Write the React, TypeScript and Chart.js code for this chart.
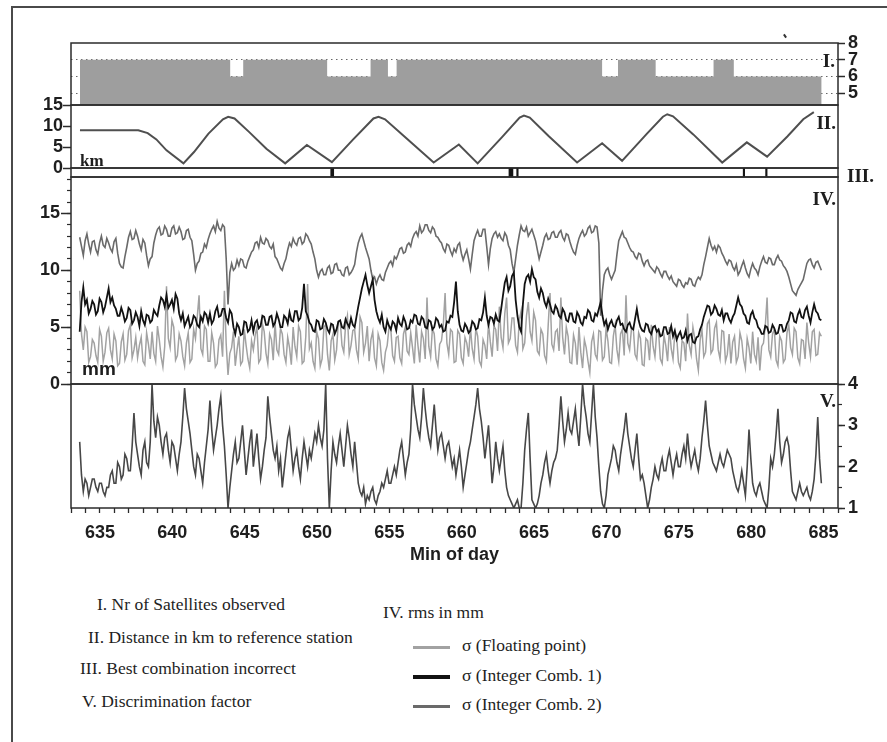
import React, { useEffect, useRef } from "react";
import { Chart, registerables } from "chart.js";
Chart.register(...registerables);

// ---------------- data ----------------
const X_MIN = 633;
const X_MAX = 686;
const X_LABEL_EVERY = 5;

// I. number of satellites (step changes)
const SAT_TIME = [633.62, 644.0, 644.9, 650.7, 653.7, 654.9, 655.5, 669.7, 670.8, 673.4, 677.4, 678.8, 684.87];
const SAT_COUNT = [7, 6, 7, 6, 7, 6, 7, 6, 7, 6, 7, 6, 6];

// II. distance to reference station (km)
const DIST_TIME = [633.62, 637.65, 638.3, 638.9, 639.6, 640.77, 641.5, 642.5, 643.5, 643.86, 644.3, 645.3, 646.5, 647.8, 649.3, 651.03, 652.5, 653.9, 654.25, 654.7, 656.0, 658.06, 659.8, 661.1, 662.8, 664.0, 664.3, 664.7, 666.0, 667.97, 669.7, 671.08, 672.8, 673.9, 674.2, 674.6, 676.0, 678.0, 679.7, 681.1, 682.5, 683.6, 684.33];
const DIST_KM = [9.0, 9.0, 8.3, 6.8, 4.2, 1.1, 3.8, 8.2, 11.6, 12.2, 11.8, 8.6, 4.6, 1.1, 5.5, 1.4, 6.8, 11.8, 12.2, 11.6, 7.6, 1.3, 5.6, 1.1, 7.4, 12.0, 12.5, 12.0, 7.6, 1.3, 5.9, 1.7, 8.2, 12.2, 12.8, 12.3, 8.0, 1.3, 6.1, 2.7, 7.5, 11.6, 13.3];

// III. best combination incorrect (minutes)
const WRONG_THICK = [651.05];
const WRONG_BLOCK = [663.4];
const WRONG_THIN = [663.85, 679.5, 681.05];

// sampling of the rms / discrimination series (one row = one minute)
const T_START = 633.6;
const T_STEP = 0.125;

// IV. sigma, floating point (mm)
const SIGMA_FLOAT = [
  8.2, 4.4, 3.0, 5.0, 4.6, 1.9, 2.4, 3.9,
  3.6, 2.5, 1.9, 4.8, 4.2, 2.0, 2.8, 4.5,
  4.9, 3.0, 2.2, 4.4, 3.8, 1.6, 1.8, 3.7,
  4.4, 2.1, 2.6, 4.7, 5.2, 2.3, 3.0, 4.1,
  2.3, 3.4, 4.1, 2.0, 1.7, 4.5, 3.5, 2.2,
  4.6, 2.7, 2.0, 5.1, 3.9, 2.4, 1.5, 3.3,
  8.6, 4.0, 3.2, 5.6, 5.0, 2.1, 2.5, 4.4,
  3.8, 2.4, 1.6, 3.6, 4.5, 1.9, 2.2, 4.8,
  4.0, 5.9, 7.8, 3.1, 2.6, 5.1, 4.8, 2.0,
  2.0, 4.5, 3.6, 1.5, 1.8, 3.9, 4.3, 2.4,
  8.2, 3.5, 0.8, 2.7, 3.2, 4.6, 1.6, 3.0,
  4.2, 1.7, 2.0, 4.8, 3.4, 2.2, 1.4, 3.8,
  3.0, 4.3, 5.0, 1.9, 2.2, 5.3, 4.6, 2.7,
  1.8, 4.4, 3.9, 2.1, 5.4, 3.0, 2.6, 4.9,
  4.4, 2.6, 1.9, 4.1, 3.2, 1.7, 5.0, 3.3,
  2.4, 5.1, 4.6, 1.8, 2.0, 4.2, 8.8, 3.1,
  3.6, 2.0, 1.4, 4.6, 4.0, 1.6, 2.2, 5.0,
  5.2, 2.6, 1.2, 3.8, 4.4, 2.1, 3.0, 5.5,
  5.6, 3.4, 2.8, 5.2, 6.0, 2.6, 3.4, 4.7,
  4.8, 3.0, 2.2, 5.9, 5.4, 2.8, 3.6, 5.1,
  2.0, 3.9, 4.6, 2.3, 1.6, 4.4, 3.8, 1.9,
  1.2, 2.8, 3.4, 5.0, 4.8, 2.5, 2.0, 4.1,
  4.2, 2.3, 1.8, 4.4, 5.0, 2.9, 2.6, 4.5,
  3.2, 1.8, 5.2, 3.4, 1.9, 4.6, 4.0, 2.2,
  7.6, 3.3, 2.4, 4.9, 4.4, 2.2, 1.6, 3.5,
  3.8, 5.2, 8.0, 3.6, 2.6, 4.8, 4.6, 1.9,
  2.0, 4.7, 4.4, 2.3, 1.8, 4.1, 3.6, 2.4,
  5.0, 3.1, 2.2, 4.9, 4.2, 2.0, 1.6, 3.9,
  3.4, 2.2, 5.4, 3.7, 2.4, 5.1, 4.8, 2.9,
  6.8, 4.1, 3.2, 6.2, 7.6, 3.6, 4.0, 5.8,
  5.8, 3.4, 2.8, 5.6, 6.4, 3.1, 3.6, 6.0,
  7.2, 4.6, 3.8, 6.3, 5.6, 2.9, 2.6, 4.8,
  4.4, 2.5, 2.0, 5.2, 8.0, 3.5, 3.0, 4.6,
  4.8, 2.9, 7.6, 4.1, 2.6, 5.0, 4.2, 1.9,
  1.8, 4.3, 3.6, 1.7, 5.0, 2.8, 1.4, 3.9,
  3.2, 2.0, 1.0, 3.7, 4.4, 2.6, 2.2, 4.7,
  4.6, 2.1, 2.4, 4.9, 3.8, 1.9, 1.8, 4.2,
  5.2, 3.0, 2.0, 4.4, 4.8, 2.5, 7.8, 3.6,
  3.0, 4.8, 5.0, 2.6, 2.2, 4.5, 4.0, 1.7,
  1.6, 4.0, 3.8, 2.1, 5.2, 3.3, 2.4, 4.6,
  4.6, 2.2, 1.8, 4.3, 3.4, 2.0, 5.0, 3.1,
  2.2, 4.5, 4.2, 1.9, 1.4, 3.8, 3.6, 2.0,
  6.2, 3.4, 2.6, 5.0, 4.0, 2.2, 1.2, 3.9,
  4.8, 2.4, 2.8, 5.3, 5.6, 2.7, 3.0, 4.9,
  5.4, 3.0, 2.2, 4.7, 4.6, 2.0, 2.6, 4.4,
  1.8, 3.7, 4.2, 1.9, 2.4, 4.5, 3.8, 2.2,
  1.4, 4.0, 3.2, 1.8, 4.6, 2.6, 2.0, 4.1,
  1.2, 3.3, 3.6, 5.1, 7.6, 3.0, 2.4, 4.4,
  4.8, 2.1, 1.6, 4.2, 3.8, 1.9, 2.2, 4.5,
  5.2, 3.2, 2.6, 4.9, 4.6, 2.3, 1.8, 3.9,
  3.8, 2.2, 5.4, 3.6, 2.4, 4.6, 4.8, 2.5,
  2.6, 4.5, 4.2,
];

// IV. sigma, integer combination 1 (mm)
const SIGMA_INT1 = [
  4.6, 7.2, 8.5, 7.0, 7.4, 6.2, 6.6, 7.3,
  7.0, 6.1, 6.4, 7.5, 7.2, 6.3, 6.8, 7.6,
  8.4, 7.2, 7.6, 6.9, 6.6, 6.0, 6.0, 6.7,
  6.2, 5.5, 5.8, 6.7, 6.5, 5.3, 5.6, 6.3,
  5.9, 5.1, 6.4, 5.6, 5.2, 6.1, 6.0, 5.4,
  5.6, 6.5, 6.2, 6.0, 6.9, 7.6, 7.4, 6.8,
  7.8, 6.7, 7.0, 7.4, 6.6, 7.9, 7.5, 6.2,
  5.6, 6.2, 5.1, 5.5, 5.9, 5.0, 5.3, 6.0,
  5.8, 5.2, 5.0, 5.9, 5.5, 6.3, 6.1, 5.4,
  6.2, 5.3, 5.6, 6.4, 6.8, 5.9, 6.0, 6.6,
  6.6, 5.8, 5.4, 6.5, 6.2, 5.0, 4.4, 5.3,
  5.0, 4.3, 4.4, 5.5, 5.4, 4.6, 4.8, 5.6,
  4.6, 5.4, 5.6, 4.9, 5.1, 6.0, 5.9, 5.2,
  5.2, 5.9, 6.0, 5.1, 5.4, 6.2, 5.7, 5.0,
  5.0, 6.0, 5.8, 5.3, 6.3, 5.6, 5.5, 6.4,
  6.4, 5.6, 5.8, 6.7, 8.8, 6.4, 6.0, 5.4,
  5.2, 4.7, 4.6, 5.6, 5.5, 4.8, 4.9, 5.7,
  5.4, 4.8, 4.5, 5.3, 5.2, 4.4, 4.8, 5.5,
  5.6, 5.0, 4.9, 5.7, 5.3, 5.0, 5.8, 5.2,
  5.0, 5.9, 6.8, 7.6, 8.4, 9.0, 9.6, 8.7,
  8.0, 8.6, 9.2, 7.4, 6.4, 5.8, 5.4, 6.1,
  5.0, 4.6, 5.6, 5.1, 4.8, 5.5, 5.3, 4.7,
  5.8, 5.3, 5.1, 5.9, 5.5, 4.8, 4.9, 5.6,
  5.4, 6.1, 6.0, 5.3, 5.2, 5.9, 5.7, 5.0,
  4.9, 5.6, 5.5, 4.8, 5.0, 5.8, 5.6, 5.0,
  5.2, 4.6, 4.7, 5.5, 5.4, 6.0, 5.9, 7.2,
  9.0, 6.4, 5.2, 4.7, 4.6, 5.3, 5.0, 4.5,
  4.7, 5.5, 5.3, 4.8, 4.9, 5.7, 5.6, 6.3,
  7.6, 6.0, 5.2, 5.9, 5.8, 5.3, 6.1, 5.6,
  5.5, 6.6, 7.8, 8.9, 9.4, 8.2, 8.6, 9.5,
  9.8, 7.4, 6.0, 5.0, 4.6, 7.0, 8.8, 9.4,
  9.6, 9.0, 10.1, 9.4, 9.2, 8.1, 7.6, 8.4,
  8.0, 7.2, 6.8, 7.5, 7.0, 6.4, 6.2, 6.9,
  6.6, 6.0, 5.8, 6.6, 6.3, 5.6, 5.5, 6.2,
  6.2, 5.5, 5.4, 6.3, 6.0, 5.4, 5.2, 5.9,
  5.8, 6.5, 6.3, 5.6, 5.5, 6.2, 6.0, 6.6,
  7.2, 6.0, 5.2, 5.6, 4.8, 5.3, 5.6, 5.1,
  5.0, 5.6, 5.9, 5.2, 5.3, 4.8, 4.6, 5.2,
  5.4, 4.9, 4.8, 5.7, 6.6, 5.6, 5.0, 4.7,
  4.6, 5.3, 5.2, 4.6, 4.4, 5.0, 5.1, 4.6,
  4.8, 4.2, 4.3, 5.0, 5.0, 4.4, 4.5, 5.1,
  4.2, 4.7, 3.9, 4.3, 4.6, 4.0, 4.1, 4.7,
  3.8, 4.3, 4.4, 3.7, 3.6, 4.1, 4.2, 4.8,
  5.2, 5.9, 6.4, 6.9, 6.8, 6.1, 6.3, 6.9,
  6.6, 6.1, 6.0, 6.5, 5.6, 6.2, 6.2, 5.7,
  5.4, 5.9, 6.2, 6.9, 7.6, 7.0, 6.8, 6.2,
  6.0, 5.4, 5.3, 6.1, 6.4, 5.8, 5.6, 5.0,
  4.8, 4.4, 4.4, 5.1, 5.0, 4.5, 4.6, 5.2,
  4.9, 4.4, 4.5, 5.2, 5.2, 4.6, 4.7, 5.3,
  5.6, 6.3, 6.2, 5.5, 5.4, 6.1, 6.5, 5.9,
  5.8, 6.5, 6.8, 6.0, 5.4, 6.3, 7.0, 6.4,
  6.2, 5.7, 5.6,
];

// IV. sigma, integer combination 2 (mm)
const SIGMA_INT2 = [
  12.9, 12.1, 11.3, 12.6, 13.2, 12.3, 11.6, 12.5,
  12.6, 11.8, 11.4, 12.4, 13.0, 12.2, 12.0, 12.8,
  12.4, 11.9, 11.6, 12.5, 12.8, 11.5, 10.6, 10.3,
  10.2, 11.2, 12.0, 12.9, 13.4, 12.7, 12.8, 13.5,
  13.0, 12.3, 11.8, 12.7, 12.4, 11.3, 10.4, 11.0,
  11.2, 12.4, 13.1, 13.6, 13.8, 13.1, 13.2, 13.9,
  13.6, 13.0, 13.0, 13.7, 13.9, 13.2, 13.3, 13.8,
  13.4, 12.7, 12.8, 13.5, 13.6, 12.9, 12.6, 11.4,
  10.0, 10.6, 10.8, 11.5, 11.6, 12.3, 12.0, 12.7,
  13.2, 13.6, 13.9, 13.4, 14.3, 13.7, 13.5, 14.0,
  13.8, 11.0, 7.0, 9.8, 10.6, 10.0, 10.2, 10.9,
  10.4, 11.0, 10.9, 10.3, 10.2, 10.8, 11.2, 11.6,
  11.8, 12.4, 12.5, 12.0, 12.9, 12.4, 12.3, 12.8,
  12.6, 12.1, 11.9, 12.3, 11.2, 11.0, 10.6, 10.2,
  10.0, 10.6, 11.0, 11.8, 12.4, 12.1, 12.8, 12.4,
  12.2, 12.8, 12.9, 12.3, 12.5, 13.2, 13.0, 12.6,
  12.3, 11.6, 11.0, 10.0, 9.4, 9.9, 10.1, 9.6,
  9.6, 10.2, 10.4, 9.7, 9.8, 10.5, 10.6, 10.0,
  10.0, 9.6, 9.5, 10.2, 10.3, 9.6, 9.8, 10.1,
  10.5, 11.6, 12.4, 12.9, 13.2, 12.6, 12.0, 11.5,
  11.0, 10.0, 9.2, 9.4, 8.8, 9.3, 9.6, 9.2,
  9.1, 9.8, 10.2, 10.6, 10.8, 10.4, 11.2, 11.0,
  11.4, 11.9, 12.0, 11.5, 11.6, 12.2, 12.4, 12.1,
  12.8, 13.2, 13.4, 13.0, 13.9, 13.3, 13.5, 14.0,
  14.0, 13.5, 13.3, 13.8, 13.6, 13.0, 12.9, 12.6,
  12.4, 11.9, 11.6, 12.3, 12.2, 11.7, 11.3, 11.9,
  11.6, 12.2, 12.4, 11.5, 10.9, 11.4, 11.8, 11.0,
  10.1, 11.4, 12.6, 13.1, 13.5, 13.0, 13.0, 13.6,
  13.6, 12.1, 10.5, 11.9, 12.8, 13.2, 13.4, 12.9,
  13.2, 12.8, 12.6, 13.3, 13.0, 12.2, 11.8, 10.6,
  9.8, 11.0, 12.2, 13.1, 13.9, 13.5, 13.4, 13.8,
  13.0, 13.3, 13.6, 13.1, 12.6, 11.8, 11.0, 11.6,
  12.2, 12.9, 13.2, 12.7, 12.8, 13.3, 13.4, 12.9,
  12.9, 13.3, 13.5, 12.9, 12.6, 13.2, 13.1, 12.5,
  12.0, 11.6, 11.4, 12.2, 12.8, 13.2, 13.5, 13.0,
  13.2, 13.7, 13.9, 13.3, 13.4, 13.9, 13.8, 12.4,
  6.0, 8.2, 9.6, 10.0, 10.2, 9.6, 9.2, 9.6,
  10.0, 11.4, 12.6, 13.0, 13.4, 12.9, 12.8, 12.4,
  12.0, 11.7, 11.6, 11.2, 11.0, 11.5, 11.4, 10.8,
  10.4, 10.8, 10.9, 10.4, 10.2, 10.0, 9.8, 10.3,
  10.1, 9.7, 9.4, 9.9, 9.9, 9.5, 9.2, 9.5,
  9.0, 8.8, 8.6, 9.2, 9.1, 8.7, 8.5, 8.9,
  8.8, 9.3, 9.2, 8.7, 8.6, 9.1, 9.4, 9.2,
  9.6, 10.5, 11.2, 12.0, 12.8, 12.2, 11.8, 12.1,
  11.6, 12.2, 12.0, 11.5, 11.2, 10.8, 10.5, 10.9,
  10.8, 10.3, 10.0, 10.5, 9.6, 9.9, 10.4, 10.8,
  10.2, 9.7, 9.4, 10.1, 10.6, 10.2, 10.0, 9.6,
  10.3, 10.8, 11.2, 10.7, 10.6, 11.1, 11.0, 10.5,
  10.5, 11.0, 11.3, 10.9, 10.8, 10.4, 10.2, 9.9,
  9.4, 8.8, 8.2, 8.0, 7.8, 8.3, 8.6, 8.9,
  9.2, 9.9, 10.6, 10.9, 11.0, 10.5, 10.2, 10.7,
  10.8, 10.4, 10.0,
];

// V. discrimination factor
const DISCRIM = [
  2.6, 1.8, 1.4, 1.7, 1.6, 1.3, 1.5, 1.7,
  1.7, 1.5, 1.4, 1.6, 1.6, 1.4, 1.3, 1.5,
  1.5, 1.8, 1.9, 1.6, 1.6, 2.1, 2.0, 1.7,
  1.8, 2.3, 2.2, 1.9, 1.9, 2.5, 3.3, 2.6,
  2.3, 2.0, 1.8, 2.4, 2.6, 2.1, 2.0, 2.6,
  4.0, 3.1, 2.7, 3.2, 3.0, 2.6, 2.3, 2.7,
  2.8, 2.4, 2.1, 2.6, 2.5, 2.2, 1.9, 2.3,
  2.6, 3.2, 3.9, 3.4, 3.1, 2.8, 2.4, 2.0,
  1.8, 2.3, 2.2, 1.9, 1.6, 2.1, 2.5, 2.9,
  3.6, 2.9, 2.4, 2.7, 3.0, 3.4, 3.7, 3.0,
  2.5, 1.8, 1.0, 1.5, 1.9, 2.3, 2.6, 2.1,
  2.2, 2.6, 3.0, 2.4, 1.8, 2.2, 2.6, 2.9,
  2.0, 2.4, 2.8, 2.2, 1.7, 2.0, 2.4, 2.7,
  3.7, 3.2, 2.8, 2.4, 2.2, 2.5, 1.9, 2.2,
  1.5, 1.9, 2.3, 2.7, 2.9, 2.4, 1.9, 2.2,
  2.4, 2.0, 1.7, 2.2, 2.6, 2.3, 2.0, 2.4,
  2.2, 2.5, 2.8, 2.6, 3.0, 2.7, 2.5, 2.9,
  4.0, 2.2, 1.0, 1.9, 2.6, 2.3, 2.1, 2.5,
  2.8, 2.4, 2.0, 2.5, 3.0, 2.7, 2.3, 2.0,
  2.6, 2.1, 1.6, 1.4, 1.3, 1.5, 1.1, 1.3,
  1.2, 1.4, 1.5, 1.2, 1.1, 1.3, 1.4, 1.6,
  1.5, 1.7, 1.9, 1.6, 1.6, 1.8, 2.0, 1.8,
  2.1, 2.4, 2.6, 2.2, 1.8, 2.1, 2.3, 2.9,
  4.0, 3.5, 3.2, 2.9, 2.7, 3.2, 3.9, 3.4,
  3.0, 2.7, 2.5, 3.0, 3.5, 2.9, 2.4, 2.7,
  2.8, 2.5, 2.2, 2.5, 2.6, 2.3, 2.0, 2.2,
  1.8, 2.1, 2.4, 2.0, 1.5, 1.8, 2.1, 2.4,
  2.6, 2.9, 3.2, 3.5, 3.9, 3.4, 3.1, 2.7,
  2.2, 2.6, 3.0, 2.3, 1.6, 2.0, 2.6, 2.2,
  1.9, 2.2, 2.5, 1.9, 1.5, 1.3, 1.2, 1.1,
  1.0, 1.1, 1.2, 1.0, 1.0, 1.6, 2.4, 2.9,
  3.3, 2.2, 1.2, 1.1, 1.0, 1.1, 1.3, 1.6,
  1.8, 2.1, 2.3, 1.9, 1.6, 1.9, 2.1, 2.2,
  2.4, 3.0, 3.7, 3.1, 2.6, 2.9, 3.3, 2.9,
  2.8, 3.1, 3.4, 2.9, 2.5, 3.2, 4.0, 3.5,
  3.2, 2.8, 2.6, 3.3, 4.0, 3.2, 2.7, 2.0,
  1.4, 1.1, 1.0, 1.3, 1.8, 2.0, 2.2, 2.5,
  2.4, 2.1, 1.9, 2.3, 2.6, 2.9, 3.3, 2.8,
  2.5, 2.2, 2.0, 2.4, 2.8, 2.2, 1.7, 1.8,
  1.6, 1.3, 1.0, 1.2, 1.5, 1.7, 2.0, 1.8,
  1.7, 2.0, 2.2, 1.9, 1.9, 2.2, 2.4, 2.1,
  1.8, 2.1, 2.3, 2.0, 2.0, 2.3, 2.5, 2.2,
  2.8, 2.3, 2.0, 2.2, 2.4, 2.1, 1.9, 2.2,
  2.7, 3.1, 3.6, 3.0, 2.5, 2.3, 2.1, 2.0,
  1.9, 2.1, 2.3, 2.1, 2.0, 2.2, 2.4, 2.3,
  2.2, 1.9, 1.7, 1.5, 1.4, 1.6, 1.9, 1.6,
  1.3, 2.0, 2.9, 2.2, 1.6, 1.4, 1.3, 1.5,
  1.6, 1.4, 1.2, 1.1, 1.0, 1.5, 2.2, 2.0,
  2.3, 2.8, 3.4, 2.6, 2.1, 2.3, 2.6, 2.7,
  2.5, 1.9, 1.4, 1.3, 1.2, 1.4, 1.6, 1.4,
  1.3, 1.4, 1.5, 1.3, 1.2, 1.4, 1.7, 2.3,
  3.2, 2.2, 1.6,
];

// ---------------- layout / style ----------------
const W = 887;
const H = 742;
const PLOT_L = 71;
const PLOT_R = 838;
const PAD = 15;
const SANS = "'Liberation Sans', Arial, sans-serif";
const SERIF = "'Liberation Serif', 'Times New Roman', serif";
const INK = "#1e1e1e";
const TICK_FONT = { family: SANS, size: 18, weight: "bold" as const };
const C_FLOAT = "#a2a2a2";
const C_INT1 = "#121212";
const C_INT2 = "#6a6a6a";

Chart.defaults.font.family = SANS;

const pts = (vals: number[]) => vals.map((y, i) => ({ x: T_START + i * T_STEP, y }));

const frame = {
  id: "frame",
  afterDraw(chart: any) {
    const { ctx, chartArea } = chart;
    ctx.save();
    ctx.strokeStyle = "#2b2b2b";
    ctx.lineWidth = 1.5;
    ctx.strokeRect(chartArea.left, chartArea.top, chartArea.right - chartArea.left, chartArea.bottom - chartArea.top);
    ctx.restore();
  },
};

const base = {
  responsive: false,
  maintainAspectRatio: false,
  animation: false as const,
  devicePixelRatio: 1,
  events: [] as any[],
  plugins: { legend: { display: false }, tooltip: { enabled: false } },
};

const xHidden = { type: "linear" as const, min: X_MIN, max: X_MAX, display: false, offset: false };

function yMain(position: string, min: number, max: number, step: number, tickLength: number, pad: number, width: number) {
  return {
    type: "linear",
    position,
    min,
    max,
    weight: 1,
    afterFit: (s: any) => {
      s.width = width;
    },
    ticks: { stepSize: step, includeBounds: false, autoSkip: false, font: TICK_FONT, color: INK, padding: pad },
    grid: { drawOnChartArea: false, drawTicks: true, tickLength, tickColor: "#2b2b2b", tickWidth: 1.5 },
    border: { display: false },
  };
}

function yMinor(position: string, min: number, max: number, step: number, tickLength: number) {
  return {
    type: "linear",
    position,
    min,
    max,
    weight: 0,
    afterFit: (s: any) => {
      s.width = 0;
    },
    ticks: { stepSize: step, includeBounds: false, display: false, autoSkip: false },
    grid: { drawOnChartArea: false, drawTicks: true, tickLength, tickColor: "#2b2b2b", tickWidth: 1.2 },
    border: { display: false },
  };
}

const noisyLine = (label: string, vals: number[], color: string, width: number) => ({
  label,
  data: pts(vals),
  borderColor: color,
  borderWidth: width,
  pointRadius: 0,
  tension: 0,
  fill: false,
  borderJoinStyle: "miter" as const,
});

// Panel I
const panelI = (): any => ({
  type: "line",
  data: {
    datasets: [
      {
        data: SAT_TIME.map((x, i) => ({ x, y: SAT_COUNT[i] })),
        stepped: true,
        fill: "start",
        backgroundColor: "#9e9e9e",
        borderWidth: 0,
        pointRadius: 0,
      },
    ],
  },
  options: {
    ...base,
    layout: { padding: { left: PLOT_L, right: 0, top: PAD, bottom: PAD } },
    scales: {
      x: xHidden,
      y: {
        ...yMain("right", 4.3, 8, 1, 7, 3, W - PLOT_R),
        grid: {
          drawOnChartArea: true,
          drawTicks: true,
          tickLength: 7,
          tickColor: "#2b2b2b",
          tickWidth: 1.5,
          tickBorderDash: [],
          color: (c: any) => (c.tick && c.tick.value >= 8 ? "rgba(0,0,0,0)" : "#666"),
          lineWidth: 1,
        },
        border: { display: false, dash: [1.5, 3.5] },
      },
    },
  },
  plugins: [frame],
});

// Panel II
const panelII = (): any => ({
  type: "line",
  data: {
    datasets: [
      {
        data: DIST_TIME.map((x, i) => ({ x, y: DIST_KM[i] })),
        borderColor: "#4f4f4f",
        borderWidth: 2,
        pointRadius: 0,
        tension: 0,
        fill: false,
      },
    ],
  },
  options: {
    ...base,
    layout: { padding: { left: 0, right: W - PLOT_R, top: PAD, bottom: PAD } },
    scales: { x: xHidden, y: yMain("left", 0, 15, 5, 8, 0, PLOT_L) },
  },
  plugins: [frame],
});

// Panel III
const panelIII = (): any => ({
  type: "bar",
  data: {
    datasets: [
      { data: WRONG_THICK.map((x) => ({ x, y: 1 })), barThickness: 3, backgroundColor: "#151515", grouped: false },
      { data: WRONG_BLOCK.map((x) => ({ x, y: 1 })), barThickness: 4, backgroundColor: "#151515", grouped: false },
      { data: WRONG_THIN.map((x) => ({ x, y: 1 })), barThickness: 1.5, backgroundColor: "#151515", grouped: false },
    ],
  },
  options: {
    ...base,
    layout: { padding: { left: PLOT_L, right: W - PLOT_R, top: PAD, bottom: PAD } },
    scales: { x: xHidden, y: { type: "linear", min: 0, max: 1, display: false } },
  },
  plugins: [frame],
});

// Panel IV
const panelIV = (): any => ({
  type: "line",
  data: {
    datasets: [
      noisyLine("σ (Integer Comb. 1)", SIGMA_INT1, C_INT1, 1.8),
      noisyLine("σ (Floating point)", SIGMA_FLOAT, C_FLOAT, 1.5),
      noisyLine("σ (Integer Comb. 2)", SIGMA_INT2, C_INT2, 1.6),
    ],
  },
  options: {
    ...base,
    layout: { padding: { left: 0, right: W - PLOT_R, top: PAD, bottom: PAD } },
    scales: {
      x: xHidden,
      y: yMain("left", 0, 18.2, 5, 10, 1, PLOT_L),
      ym: yMinor("left", 0, 18.2, 1, 4),
    },
  },
  plugins: [frame],
});

// Panel V (with the time axis)
const panelV = (): any => ({
  type: "line",
  data: {
    datasets: [noisyLine("Discrimination factor", DISCRIM, "#474747", 1.6)],
  },
  options: {
    ...base,
    layout: { padding: { left: PLOT_L, right: 0, top: PAD, bottom: 2 } },
    scales: {
      x: {
        type: "linear",
        position: "bottom",
        min: X_MIN,
        max: X_MAX,
        offset: false,
        afterFit: (s: any) => {
          s.height = 62;
        },
        ticks: {
          stepSize: 1,
          includeBounds: false,
          autoSkip: false,
          maxRotation: 0,
          minRotation: 0,
          font: TICK_FONT,
          color: INK,
          padding: 9,
          callback: (v: any) => {
            const n = Math.round(Number(v));
            return n % X_LABEL_EVERY === 0 ? String(n) : "";
          },
        },
        grid: { drawOnChartArea: false, drawTicks: true, tickLength: 5, tickColor: "#2b2b2b", tickWidth: 1.3 },
        border: { display: false },
        title: { display: true, text: "Min of day", font: { family: SANS, size: 18, weight: "bold" }, color: INK, padding: { top: 0, bottom: 4 } },
      },
      y: yMain("right", 1, 4, 1, 7, 3, W - PLOT_R),
      ym: yMinor("right", 1, 4, 0.5, 4),
    },
  },
  plugins: [frame],
});

function ChartCanvas({ top, height, make }: { top: number; height: number; make: () => any }) {
  const ref = useRef<HTMLCanvasElement>(null);
  useEffect(() => {
    if (!ref.current) return;
    const chart = new Chart(ref.current, make());
    return () => chart.destroy();
  }, []);
  return <canvas ref={ref} width={W} height={height} style={{ position: "absolute", left: 0, top, width: W, height }} />;
}

function Txt(props: { x: number; base: number; size: number; family: string; bold?: boolean; right?: boolean; children: React.ReactNode }) {
  const { x, base: bl, size, family, bold, right, children } = props;
  const style: React.CSSProperties = {
    position: "absolute",
    top: bl - 0.84 * size,
    fontSize: size,
    lineHeight: `${size}px`,
    fontFamily: family,
    fontWeight: bold ? "bold" : "normal",
    whiteSpace: "nowrap",
    color: INK,
  };
  if (right) style.right = W - x;
  else style.left = x;
  return <div style={style}>{children}</div>;
}

const LEGEND_LEFT = [
  { text: "I. Nr of Satellites observed", x: 97, base: 611 },
  { text: "II. Distance in km to reference station", x: 88, base: 644 },
  { text: "III. Best combination incorrect", x: 80, base: 675 },
  { text: "V. Discrimination factor", x: 82, base: 708 },
];
const LEGEND_SERIES = [
  { text: "σ (Floating point)", color: C_FLOAT, thick: 3, y: 647 },
  { text: "σ (Integer Comb. 1)", color: C_INT1, thick: 4, y: 677 },
  { text: "σ (Integer Comb. 2)", color: C_INT2, thick: 3, y: 706 },
];
const LEGEND_SIZE = 17.5;

export default function App() {
  return (
    <div style={{ position: "absolute", left: 0, top: 0, width: W, height: H, background: "#fff", overflow: "hidden" }}>
      <div style={{ position: "absolute", left: 11, top: 6, width: W, height: H + 20, borderTop: "2px solid #4a4a4a", borderLeft: "2px solid #4a4a4a" }} />
      <div style={{ position: "absolute", left: 784, top: 34, width: 2, height: 4, background: "#333", transform: "rotate(-35deg)" }} />
      <ChartCanvas top={43 - PAD} height={62 + 2 * PAD} make={panelI} />
      <ChartCanvas top={105 - PAD} height={63 + 2 * PAD} make={panelII} />
      <ChartCanvas top={168 - PAD} height={9 + 2 * PAD} make={panelIII} />
      <ChartCanvas top={177 - PAD} height={207 + 2 * PAD} make={panelIV} />
      <ChartCanvas top={384 - PAD} height={PAD + 124 + 62 + 2} make={panelV} />

      <Txt x={835} base={67} size={19} family={SERIF} bold right>I.</Txt>
      <Txt x={836} base={129} size={19} family={SERIF} bold right>II.</Txt>
      <Txt x={847} base={182} size={19} family={SERIF} bold>III.</Txt>
      <Txt x={836} base={205} size={19} family={SERIF} bold right>IV.</Txt>
      <Txt x={836} base={407} size={19} family={SERIF} bold right>V.</Txt>
      <Txt x={80} base={166} size={17} family={SERIF} bold>km</Txt>
      <Txt x={82} base={375} size={19} family={SANS} bold>mm</Txt>

      {LEGEND_LEFT.map((l) => (
        <Txt key={l.text} x={l.x} base={l.base} size={LEGEND_SIZE} family={SERIF}>{l.text}</Txt>
      ))}
      <Txt x={383} base={619} size={LEGEND_SIZE} family={SERIF}>IV. rms in mm</Txt>
      {LEGEND_SERIES.map((s) => (
        <React.Fragment key={s.text}>
          <div style={{ position: "absolute", left: 413, width: 37, top: s.y - s.thick / 2, height: s.thick, background: s.color }} />
          <Txt x={462} base={s.y + 5} size={LEGEND_SIZE} family={SERIF}>{s.text}</Txt>
        </React.Fragment>
      ))}
    </div>
  );
}
